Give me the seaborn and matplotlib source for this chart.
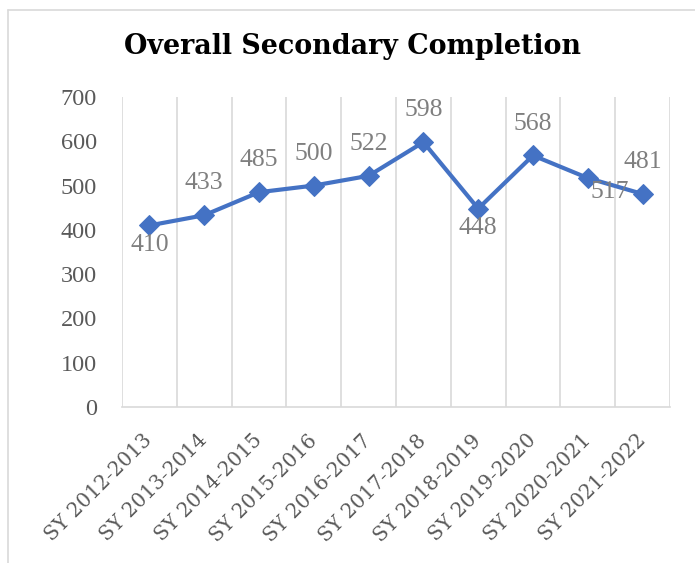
import matplotlib
matplotlib.use("Agg")
import matplotlib.pyplot as plt
import matplotlib.transforms as mtransforms
import seaborn as sns
import pandas as pd
from matplotlib.lines import Line2D

categories = ["SY 2012-2013", "SY 2013-2014", "SY 2014-2015", "SY 2015-2016",
              "SY 2016-2017", "SY 2017-2018", "SY 2018-2019", "SY 2019-2020",
              "SY 2020-2021", "SY 2021-2022"]
values = [410, 433, 485, 500, 522, 598, 448, 568, 517, 481]
label_pos = ["below", "above", "above", "above", "above", "above", "below",
             "above", "belowright", "above"]
yticks = [0, 100, 200, 300, 400, 500, 600, 700]

sns.set_theme(style="white")
plt.rcParams['font.family'] = ['Liberation Serif', 'DejaVu Serif']

df = pd.DataFrame({"cat": categories, "val": values, "x": range(len(categories))})

fig = plt.figure(figsize=(6.95, 5.63), dpi=100)
ax = fig.add_axes([122/695, 1-407/563, (670-122)/695, (407-97)/563])

sns.lineplot(data=df, x="x", y="val", ax=ax, color="#4472C4", linewidth=3,
             marker="D", markersize=10, markeredgecolor="#4472C4", zorder=3)

ax.set_xlim(-0.5, len(categories) - 0.5)
ax.set_ylim(0, 700)
ax.set_yticks(yticks)
ax.set_yticklabels([str(t) for t in yticks], fontsize=17.5, color="#595959")
ax.set_xticks(range(len(categories)))
ax.set_xticklabels(categories, rotation=45, ha="right", va="center",
                   rotation_mode="anchor", fontsize=14.5, color="#595959",
                   family="DejaVu Serif")
shift = mtransforms.ScaledTranslation(6/100, 0, fig.dpi_scale_trans)
for lbl in ax.get_xticklabels():
    lbl.set_transform(lbl.get_transform() + shift)
ax.set_xticks([i - 0.5 for i in range(len(categories) + 1)], minor=True)
ax.tick_params(axis="x", which="major", length=0, pad=22)
ax.tick_params(axis="x", which="minor", length=0)
ax.tick_params(axis="y", length=0, pad=18)
ax.grid(False)
ax.grid(True, axis="x", which="minor", color="#D9D9D9", linewidth=1.2)
ax.set_xlabel("")
ax.set_ylabel("")
for s in ["left", "right", "top"]:
    ax.spines[s].set_visible(False)
ax.spines["bottom"].set_color("#D9D9D9")
ax.spines["bottom"].set_linewidth(1.2)

for i, (v, p) in enumerate(zip(values, label_pos)):
    if p == "above":
        off = (0, 23)
    elif p == "below":
        off = (0, -14)
    else:
        off = (16, -10)
    ax.annotate(str(v), (i, v), xytext=off, textcoords="offset points",
                ha="center", va="center", fontsize=18.5, color="#7F7F7F")

fig.text(353/695, 1-47/563, "Overall Secondary Completion", ha="center",
         va="center", fontsize=19.4, fontweight="bold", color="black",
         family="DejaVu Serif")

border = "#D9D9D9"
fig.add_artist(Line2D([8/695, 8/695], [0, 1-10/563], color=border, lw=1.2,
                      transform=fig.transFigure))
fig.add_artist(Line2D([8/695, 1], [1-10/563, 1-10/563], color=border, lw=1.2,
                      transform=fig.transFigure))

fig.savefig("out.png", dpi=100)
